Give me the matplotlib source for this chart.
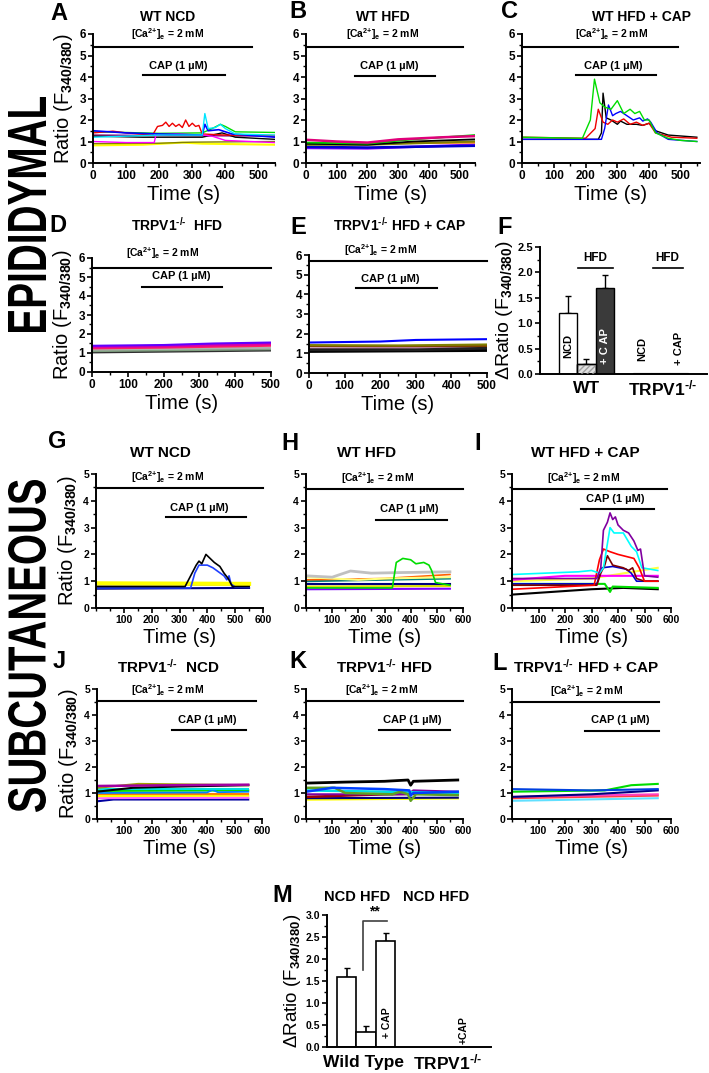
import matplotlib.pyplot as plt
from matplotlib.ticker import MultipleLocator
from matplotlib.textpath import TextPath
from matplotlib.patches import PathPatch
from matplotlib.font_manager import FontProperties
from matplotlib.transforms import Affine2D, IdentityTransform

# ---- data: (time s, ratio) breakpoints ----
# A  WT NCD (epididymal)
a_green = [(0, 1.45), (100, 1.42), (200, 1.38), (330, 1.4), (360, 1.6), (385, 1.8), (400, 1.7), (430, 1.45), (550, 1.42)]
a_red = [(0, 1.4), (60, 1.48), (100, 1.4), (180, 1.3), (195, 1.7), (210, 1.75), (220, 1.9), (230, 1.7), (240, 1.85),
         (250, 1.7), (260, 1.8), (270, 1.65), (280, 2.0), (290, 1.7), (300, 1.85), (310, 1.7), (320, 1.75), (330, 1.35),
         (400, 1.3), (550, 1.28)]
a_cyan = [(0, 1.2), (100, 1.25), (200, 1.3), (330, 1.3), (338, 2.3), (348, 1.6), (370, 1.65), (385, 1.8), (400, 1.6),
          (430, 1.35), (550, 1.3)]
a_blue = [(0, 1.5), (100, 1.4), (200, 1.35), (330, 1.3), (338, 1.8), (348, 1.5), (380, 1.55), (420, 1.35), (550, 1.2)]
a_magenta = [(0, 1.0), (100, 0.95), (185, 0.95), (190, 1.3), (250, 1.35), (330, 1.3), (360, 1.25), (400, 1.05), (550, 0.95)]
a_black = [(0, 1.25), (150, 1.2), (330, 1.2), (360, 1.3), (390, 1.4), (430, 1.2), (550, 1.1)]
a_olive = [(0, 0.9), (200, 0.92), (300, 0.97), (550, 1.0)]
a_yellow = [(0, 0.82), (150, 0.85), (270, 0.95), (330, 0.9), (550, 0.85)]
a_purple = [(0, 1.3), (200, 1.28), (550, 1.25)]

# B  WT HFD
b_magenta = [(0, 1.08), (100, 1.0), (200, 0.95), (300, 1.1), (450, 1.2), (550, 1.25)]
b_green = [(0, 0.95), (200, 0.9), (350, 1.1), (550, 1.3)]
b_black = [(0, 0.9), (200, 0.85), (350, 1.0), (550, 1.1)]
b_brown = [(0, 0.85), (200, 0.85), (550, 1.0)]
b_orange = [(0, 0.9), (550, 0.95)]
b_blue = [(0, 0.75), (200, 0.72), (550, 0.8)]
b_purple = [(0, 0.7), (200, 0.68), (550, 0.85)]

# C  WT HFD + CAP
c_green = [(0, 1.2), (190, 1.15), (215, 2.0), (228, 3.9), (245, 2.8), (260, 2.6), (280, 2.5), (300, 2.9), (320, 2.3),
           (340, 2.5), (355, 2.3), (370, 2.4), (385, 2.0), (400, 2.0), (420, 1.4), (460, 1.15), (500, 1.05), (550, 1.0)]
c_red = [(0, 1.2), (200, 1.15), (230, 1.6), (240, 2.5), (255, 1.9), (270, 1.8), (285, 2.0), (300, 1.9), (320, 2.05),
         (340, 1.8), (360, 1.9), (380, 1.75), (400, 1.85), (420, 1.4), (470, 1.2), (550, 1.15)]
c_black = [(0, 1.1), (240, 1.1), (250, 1.4), (255, 3.25), (265, 2.1), (280, 2.0), (300, 1.8), (310, 1.95), (330, 1.8),
           (360, 1.8), (380, 1.75), (400, 1.85), (420, 1.5), (460, 1.3), (550, 1.2)]
c_blue = [(0, 1.1), (250, 1.1), (260, 1.6), (272, 2.7), (285, 2.2), (295, 2.3), (310, 2.4), (330, 2.2), (350, 2.0),
          (370, 2.1), (380, 1.95), (395, 2.05), (405, 1.9), (425, 1.4), (460, 1.1), (550, 1.0)]

# D  TRPV1-/- HFD
d_blue = [(0, 1.38), (200, 1.42), (340, 1.5), (500, 1.55)]
d_magenta = [(0, 1.32), (200, 1.36), (500, 1.48)]
d_red = [(0, 1.26), (200, 1.3), (500, 1.4)]
d_gray = [(0, 1.18), (500, 1.28)]
d_green = [(0, 1.1), (500, 1.2)]
d_black = [(0, 1.05), (500, 1.15)]

# E  TRPV1-/- HFD + CAP
e_blue = [(0, 1.55), (200, 1.6), (300, 1.68), (500, 1.72)]
e_olive = [(0, 1.42), (250, 1.4), (500, 1.45)]
e_brown = [(0, 1.35), (500, 1.35)]
e_pink = [(0, 1.25), (500, 1.3)]
e_black1 = [(0, 1.18), (300, 1.18), (500, 1.26)]
e_black2 = [(0, 1.1), (500, 1.15)]

# G  WT NCD (subcutaneous)
g_yellow = [(0, 0.92), (550, 0.9)]
g_gray = [(0, 0.86), (550, 0.86)]
g_black = [(0, 0.8), (320, 0.8), (340, 1.2), (360, 1.6), (370, 1.75), (380, 1.65), (395, 2.0), (410, 1.85), (425, 1.7),
           (445, 1.55), (460, 1.3), (475, 1.1), (490, 0.8), (550, 0.8)]
g_blue = [(0, 0.75), (340, 0.75), (355, 1.3), (370, 1.6), (400, 1.6), (420, 1.5), (440, 1.35), (460, 1.2), (470, 1.05),
          (478, 1.2), (485, 0.9), (500, 0.78), (550, 0.78)]
g_navy = [(0, 0.72), (550, 0.75)]

# H  WT HFD
h_gray = [(0, 1.2), (100, 1.15), (130, 1.25), (170, 1.38), (250, 1.3), (350, 1.32), (550, 1.35)]
h_yellow = [(0, 1.15), (200, 1.05), (300, 1.1), (550, 1.15)]
h_orange = [(0, 1.05), (300, 1.1), (550, 1.25)]
h_teal = [(0, 1.0), (550, 1.1)]
h_green = [(0, 0.75), (330, 0.75), (345, 1.7), (370, 1.85), (400, 1.8), (420, 1.65), (450, 1.7), (470, 1.6), (480, 1.4),
           (495, 0.95), (550, 0.85)]
h_navy = [(0, 0.9), (550, 0.9)]
h_yellow2 = [(0, 0.8), (550, 0.82)]
h_purple = [(0, 0.7), (550, 0.72)]

# I  WT HFD + CAP
i_purple = [(0, 1.1), (320, 1.1), (335, 1.5), (345, 2.9), (360, 3.2), (370, 3.55), (380, 3.3), (390, 3.4), (400, 3.1),
            (420, 2.9), (440, 2.8), (460, 2.5), (475, 2.15), (485, 2.2), (500, 1.2), (550, 1.15)]
i_cyan = [(0, 1.25), (250, 1.35), (300, 1.4), (330, 1.3), (345, 1.5), (370, 3.0), (385, 2.8), (420, 2.8), (450, 2.3),
          (470, 2.1), (490, 1.5), (550, 1.4)]
i_red = [(0, 0.7), (310, 0.85), (330, 1.8), (345, 2.2), (370, 2.1), (400, 2.0), (440, 1.9), (460, 1.85), (480, 1.5),
         (500, 1.0), (550, 1.0)]
i_wine = [(0, 0.85), (320, 0.85), (335, 1.3), (350, 1.6), (360, 1.95), (380, 1.6), (420, 1.5), (440, 1.4), (455, 1.5),
          (470, 1.1), (500, 1.0), (550, 1.0)]
i_blue = [(0, 0.9), (320, 0.9), (340, 1.5), (380, 1.55), (430, 1.45), (450, 1.3), (470, 1.0), (550, 1.0)]
i_magenta = [(0, 1.05), (200, 1.2), (550, 1.2)]
i_yellow = [(0, 1.0), (300, 1.1), (550, 1.5)]
i_green = [(0, 0.9), (350, 0.9), (370, 0.6), (380, 0.8), (550, 0.75)]
i_black = [(0, 0.5), (300, 0.7), (420, 0.75), (550, 0.7)]

# J  TRPV1-/- NCD
j_purple = [(0, 1.27), (300, 1.3), (550, 1.32)]
j_olive = [(0, 1.2), (150, 1.35), (550, 1.3)]
j_black = [(0, 1.05), (130, 1.2), (300, 1.25), (550, 1.3)]
j_cyan = [(0, 1.15), (550, 1.15)]
j_green = [(0, 1.08), (550, 1.1)]
j_blue = [(0, 1.0), (400, 1.02), (420, 1.12), (440, 1.03), (550, 1.05)]
j_orange = [(0, 0.95), (550, 0.95)]
j_yellow = [(0, 0.88), (550, 0.9)]
j_pink = [(0, 0.8), (550, 0.82)]
j_navy = [(0, 0.68), (60, 0.75), (550, 0.75)]

# K  TRPV1-/- HFD
k_black = [(0, 1.38), (150, 1.42), (300, 1.45), (390, 1.5), (400, 1.3), (410, 1.45), (580, 1.5)]
k_blue = [(0, 1.05), (100, 1.2), (300, 1.15), (395, 1.1), (400, 0.9), (410, 1.0), (580, 1.05)]
k_olive = [(0, 1.2), (110, 1.2), (150, 1.0), (330, 0.95), (360, 1.05), (390, 0.95), (400, 0.7), (420, 0.95), (580, 0.92)]
k_cyan = [(0, 1.1), (300, 1.05), (580, 1.0)]
k_purple = [(0, 0.95), (390, 0.95), (410, 1.1), (580, 1.05)]
k_wine = [(0, 0.85), (300, 0.95), (580, 1.0)]
k_navy = [(0, 0.8), (580, 0.82)]
k_yellow = [(0, 0.75), (580, 0.8)]

# L  TRPV1-/- HFD + CAP
l_green = [(0, 1.05), (350, 1.1), (450, 1.3), (550, 1.35)]
l_blue = [(0, 1.15), (300, 1.1), (550, 1.15)]
l_navy = [(0, 0.85), (300, 0.95), (550, 1.1)]
l_magenta = [(0, 0.85), (550, 0.95)]
l_red = [(0, 0.8), (550, 0.9)]
l_cyan = [(0, 0.7), (550, 0.8)]

# F / M summary bars
f_wt = [1.2, 0.19, 1.7]
f_wt_err = [0.33, 0.11, 0.25]
f_ko = [0.01, 0.01, 0.01]
m_wt = [1.6, 0.35, 2.4]
m_wt_err = [0.2, 0.13, 0.18]

# ---- styling ----
plt.rcParams['font.family'] = ['Liberation Sans', 'DejaVu Sans']
plt.rcParams['font.weight'] = 'bold'
plt.rcParams['mathtext.fontset'] = 'custom'
plt.rcParams['mathtext.rm'] = 'Liberation Sans:bold'
plt.rcParams['mathtext.it'] = 'Liberation Sans:bold'
plt.rcParams['mathtext.bf'] = 'Liberation Sans:bold'
plt.rcParams['mathtext.default'] = 'rm'

W, H = 709, 1073
fig = plt.figure(figsize=(W / 100, H / 100), dpi=100)

CA = r'[Ca$^{\text{2+}}$]$_{e}$ = 2 mM'
KO = r'TRPV1$^{\text{-/-}}$'
RATIO = 'Ratio (F$_{340/380}$)'


def box(l, t, r, b):
    return fig.add_axes([l / W, 1 - b / H, (r - l) / W, (b - t) / H])


def ftext(x, y, s, **kw):
    fig.text(x / W, 1 - y / H, s, ha='center', va='center', **kw)


def side_label(s, x0, x1, y0, y1):
    # bold text read bottom-to-top, fitted into a pixel box of the image
    tp = TextPath((0, 0), s, size=100, prop=FontProperties(family='Liberation Sans', weight='bold'))
    bb = tp.get_extents()
    tr = (Affine2D().translate(-bb.x0, -bb.y0)
          .scale((y1 - y0) / bb.width, (x1 - x0) / bb.height)
          .rotate_deg(90)
          .translate(x1, H - y1))
    fig.add_artist(PathPatch(tr.transform_path(tp), transform=IdentityTransform(), facecolor='black', lw=0))


def style(ax, ymax, ymajor, yminor, lsize=8):
    for s in ['top', 'right']:
        ax.spines[s].set_visible(False)
    for s in ['left', 'bottom']:
        ax.spines[s].set_linewidth(1.4)
    ax.set_ylim(0, ymax)
    ax.yaxis.set_major_locator(MultipleLocator(ymajor))
    ax.yaxis.set_minor_locator(MultipleLocator(yminor))
    ax.tick_params(which='major', direction='out', length=3.5, width=1.2, labelsize=lsize, pad=1.5)
    ax.tick_params(which='minor', direction='out', length=2, width=1)


def trace_panel(pos, xmax, ymax, xticks, traces, ca, cap, ylabel=False, lsize=8.5):
    ax = box(*pos)
    for pts, c, lw in traces:
        ax.plot([p[0] for p in pts], [p[1] for p in pts], color=c, lw=lw)
    style(ax, ymax, 1, 0.5, lsize)
    ax.set_xlim(0, xmax)
    ax.set_xticks(xticks)
    ax.xaxis.set_minor_locator(MultipleLocator(50))
    ax.set_xlabel('Time (s)', fontsize=14.5, labelpad=2)
    if ylabel:
        ax.set_ylabel(RATIO, fontsize=14.5, labelpad=3)
    # [Ca2+]e bar and CAP application bar
    cx0, cx1, cy, ctx, cty = ca
    ax.plot([cx0, cx1], [cy, cy], color='black', lw=1.5, clip_on=False)
    ax.text(ctx, cty, CA, fontsize=7.5, ha='center', va='center')
    px0, px1, py, ptx, pty = cap
    ax.plot([px0, px1], [py, py], color='black', lw=1.5, clip_on=False)
    ax.text(ptx, pty, 'CAP (1 \u00b5M)', fontsize=8, ha='center', va='center')
    return ax


T6 = [0, 100, 200, 300, 400, 500]
T5 = [100, 200, 300, 400, 500, 600]

# row 1
trace_panel((93, 34, 275, 163), 550, 6, T6,
            [(a_yellow, '#ffff00', 1.5), (a_olive, '#808000', 1), (a_purple, '#800080', 1), (a_black, 'black', 1),
             (a_green, '#00dd00', 1), (a_red, '#ee0000', 1), (a_magenta, '#ff00ff', 1),
             (a_blue, '#0000ff', 1.2), (a_cyan, '#00e5ff', 1)],
            (0, 480, 5.4, 224, 6.0), (150, 400, 4.1, 258, 4.5), ylabel=True)
trace_panel((306, 34, 475, 163), 550, 6, T6,
            [(b_purple, '#8000ff', 1.8), (b_blue, '#0000cc', 1.8), (b_orange, '#ff8000', 1.5), (b_brown, '#808000', 1.5),
             (b_black, 'black', 1.3), (b_green, '#00cc00', 1.3), (b_magenta, '#e0007a', 1.8)],
            (0, 510, 5.4, 250, 6.0), (160, 420, 4.05, 272, 4.5))
trace_panel((522, 34, 700, 163), 560, 6, T6,
            [(c_black, 'black', 1), (c_red, '#ee0000', 1), (c_blue, '#0000ff', 1), (c_green, '#00dd00', 1)],
            (0, 490, 5.4, 282, 6.0), (170, 420, 4.1, 288, 4.5))

# row 2
trace_panel((92, 258, 271, 372), 500, 6, T6,
            [(d_black, '#303030', 2), (d_green, '#80a080', 1.5), (d_gray, '#b0b0b0', 1.5), (d_red, '#ff2060', 2),
             (d_magenta, '#e000a0', 2), (d_blue, '#6000ff', 1.5)],
            (0, 500, 5.5, 198, 6.25), (140, 363, 4.5, 250, 5.05), ylabel=True)
trace_panel((309, 255, 487, 373), 500, 6, T6,
            [(e_black2, 'black', 2.2), (e_pink, '#c080a0', 1.5), (e_black1, '#202020', 2), (e_brown, '#804000', 1.5),
             (e_olive, '#808000', 1.5), (e_blue, '#0000ff', 1.5)],
            (0, 500, 5.7, 200, 6.25), (132, 360, 4.3, 228, 4.8))

# row 3
trace_panel((96, 474, 263, 608), 600, 5, T5,
            [(g_navy, '#000080', 1.5), (g_gray, '#c8b0a0', 1.5), (g_yellow, '#ffff00', 3), (g_blue, '#2040ff', 1.2),
             (g_black, 'black', 1.2)],
            (0, 600, 4.48, 257, 4.9), (253, 540, 3.4, 371, 3.75), ylabel=True, lsize=7.5)
trace_panel((306, 474, 463, 608), 600, 5, T5,
            [(h_purple, '#8000ff', 1.5), (h_yellow2, '#e0e000', 1.5), (h_navy, '#000080', 1.5), (h_teal, '#008080', 1.5),
             (h_orange, '#ff6000', 1.2), (h_yellow, '#ffff80', 1.5), (h_gray, '#c0c0c0', 2), (h_green, '#00dd00', 1.2)],
            (0, 600, 4.45, 274, 4.85), (266, 540, 3.3, 395, 3.7), lsize=7.5)
trace_panel((512, 474, 671, 608), 600, 5, T5,
            [(i_black, 'black', 1.5), (i_green, '#00dd00', 1.5), (i_yellow, '#ffff40', 1.5), (i_magenta, '#ff00ff', 1.5),
             (i_blue, '#0000cc', 1.2), (i_wine, '#800000', 1.2), (i_red, '#ff0000', 1.2), (i_cyan, '#00ffff', 1.2),
             (i_purple, '#8000a0', 1.2)],
            (0, 585, 4.45, 269, 4.85), (261, 535, 3.7, 390, 4.05), lsize=7.5)

# row 4
trace_panel((97, 689, 262, 819), 600, 5, T5,
            [(j_navy, '#0000a0', 1.5), (j_pink, '#ff60ff', 1.5), (j_yellow, '#ffff00', 1.5), (j_orange, '#ff8000', 1.5),
             (j_green, '#00dd00', 1.5), (j_blue, '#0080ff', 1.3), (j_cyan, '#00e0e0', 1.5), (j_black, 'black', 1.5),
             (j_olive, '#a0a000', 1.5), (j_purple, '#a000a0', 1.8)],
            (0, 577, 4.54, 258, 4.95), (274, 540, 3.42, 400, 3.8), ylabel=True, lsize=7.5)
trace_panel((306, 689, 463, 819), 600, 5, T5,
            [(k_yellow, '#ffff00', 1.8), (k_navy, '#000080', 1.5), (k_wine, '#a00000', 1.8), (k_purple, '#8000a0', 1.5),
             (k_cyan, '#00e0e0', 1.8), (k_olive, '#60a020', 1.8), (k_blue, '#0040ff', 1.8), (k_black, 'black', 2)],
            (0, 600, 4.54, 289, 4.95), (278, 551, 3.42, 407, 3.8), lsize=7.5)
trace_panel((512, 689, 671, 819), 560, 5, T5,
            [(l_cyan, '#60e0ff', 1.5), (l_red, '#ff4040', 1.5), (l_magenta, '#ff40c0', 1.5), (l_navy, '#000080', 1.5),
             (l_green, '#00dd00', 1.5), (l_blue, '#0040e0', 1.5)],
            (0, 553, 4.5, 280, 4.92), (277, 553, 3.4, 409, 3.8), lsize=7.5)

# F summary bars
ax = box(540, 247, 707, 374)
style(ax, 2.5, 0.5, 0.25, 8)
ax.set_xlim(0, 9)
ax.set_xticks([])
wt_x = [1.5, 2.5, 3.5]
ko_x = [5.5, 6.5, 7.5]
ax.bar(wt_x, f_wt, width=1.0, color=['white', '#e0e0e0', '#3a3a3a'], edgecolor='black', lw=1, zorder=2)
ax.bar(wt_x[1], f_wt[1], width=1.0, color='none', edgecolor='#a0a0a0', hatch='//////', lw=0, zorder=3)
ax.bar(wt_x[1], f_wt[1], width=1.0, color='none', edgecolor='black', lw=1, zorder=4)
ax.errorbar(wt_x, f_wt, yerr=[[0, 0, 0], f_wt_err], fmt='none', ecolor='black', elinewidth=1, capsize=2.5, zorder=1)
ax.bar(ko_x, f_ko, width=1.0, color='white', edgecolor='black', lw=0.8)
ax.text(1.5, 0.55, 'NCD', rotation=90, fontsize=8, ha='center', va='center')
ax.text(3.5, 0.55, '+ C AP', rotation=90, fontsize=8, ha='center', va='center', color='white')
ax.text(5.5, 0.5, 'NCD', rotation=90, fontsize=8, ha='center', va='center')
ax.text(7.5, 0.5, '+ CAP', rotation=90, fontsize=8, ha='center', va='center')
ax.text(2.95, 2.28, 'HFD', fontsize=8.5, ha='center', va='center')
ax.plot([2.05, 3.95], [2.08, 2.08], color='black', lw=1.2)
ax.text(6.85, 2.28, 'HFD', fontsize=8.5, ha='center', va='center')
ax.plot([6.1, 7.7], [2.08, 2.08], color='black', lw=1.2)
ax.text(2.5, -0.28, 'WT', fontsize=12.5, ha='center', va='center')
ax.text(6.6, -0.28, KO, fontsize=12.5, ha='center', va='center')
ax.set_ylabel('\u0394' + RATIO, fontsize=14, labelpad=2)
ax.yaxis.set_major_formatter(plt.FormatStrFormatter('%.1f'))

# M summary bars
ax = box(327, 915, 491, 1047)
style(ax, 3.0, 0.5, 0.25, 7.5)
ax.set_xlim(0, 8.4)
ax.set_xticks([])
ax.bar([1, 2, 3], m_wt, width=1.0, color='white', edgecolor='black', lw=1.2, zorder=2)
ax.errorbar([1, 2, 3], m_wt, yerr=[[0, 0, 0], m_wt_err], fmt='none', ecolor='black', elinewidth=1.2, capsize=2.5, zorder=1)
ax.plot([1.85, 1.85, 3.05], [1.76, 2.86, 2.86], color='#404040', lw=1.2, clip_on=False)
ax.text(2.45, 3.08, '**', fontsize=10, ha='center', va='center')
ax.text(3.05, 0.55, '+ CAP', rotation=90, fontsize=7.5, ha='center', va='center')
ax.text(7.0, 0.38, '+CAP', rotation=90, fontsize=7.5, ha='center', va='center')
ax.text(1.55, 3.42, 'NCD HFD', fontsize=10.5, ha='center', va='center')
ax.text(5.6, 3.42, 'NCD HFD', fontsize=10.5, ha='center', va='center')
ax.text(1.85, -0.35, 'Wild Type', fontsize=12.5, ha='center', va='center')
ax.text(6.2, -0.35, KO, fontsize=12.5, ha='center', va='center')
ax.set_ylabel('\u0394' + RATIO, fontsize=13.5, labelpad=2)
ax.yaxis.set_major_formatter(plt.FormatStrFormatter('%.1f'))

# panel titles
for x, y, s, fs in [(168, 17, 'WT NCD', 10), (383, 17, 'WT HFD', 10), (642, 17, 'WT HFD + CAP', 10),
                    (177, 225, KO + '  HFD', 10), (400, 225, KO + ' HFD + CAP', 10),
                    (160, 453, 'WT NCD', 11), (367, 453, 'WT HFD', 11), (585, 453, 'WT HFD + CAP', 11),
                    (168, 667, KO + '  NCD', 11), (384, 667, KO + ' HFD', 11), (586, 667, KO + ' HFD + CAP', 11)]:
    ftext(x, y, s, fontsize=fs)

# panel letters
for x, y, s in [(59, 13, 'A'), (298, 12, 'B'), (510, 12, 'C'), (58, 225, 'D'), (298, 228, 'E'), (505, 228, 'F'),
                (57, 442, 'G'), (290, 443, 'H'), (478, 443, 'I'), (59, 662, 'J'), (298, 662, 'K'), (500, 663, 'L'),
                (282, 895, 'M')]:
    ftext(x, y, s, fontsize=17)

side_label('EPIDIDYMAL', 8, 46, 97, 332)
side_label('SUBCUTANEOUS', 8, 46, 480, 812)

fig.savefig('out.png', dpi=100)
